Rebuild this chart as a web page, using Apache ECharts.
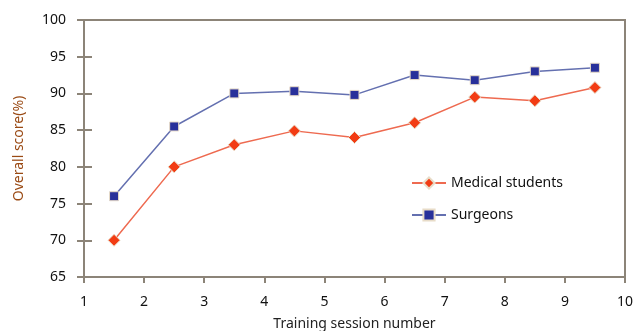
<!DOCTYPE html>
<html>
<head>
<meta charset="utf-8">
<script src="https://cdn.jsdelivr.net/npm/echarts@6/dist/echarts.min.js"></script>
<style>
  html, body { margin: 0; padding: 0; background: #fff; }
  #chart { width: 642px; height: 331px; }
</style>
</head>
<body>
<div id="chart"></div>
<script>
// session positions (x) and scores
var sessions = [1.5, 2.5, 3.5, 4.5, 5.5, 6.5, 7.5, 8.5, 9.5];
var medical = [70, 80, 83, 84.9, 84, 86, 89.5, 89, 90.8];
var surgeons = [76, 85.5, 90, 90.3, 89.8, 92.5, 91.8, 93, 93.5];

function pairs(ys) {
    return sessions.map(function (x, i) { return [x, ys[i]]; });
}

var font = 'Noto Sans';
var axisColor = '#8c8478';

var myChart = echarts.init(document.getElementById('chart'));
myChart.setOption({
    animation: false,
    textStyle: { fontFamily: font },
    grid: {
        left: 84, right: 17, top: 20, bottom: 54,
        outerBoundsMode: 'none', containLabel: false,
        show: true, borderColor: axisColor, borderWidth: 2
    },
    legend: {
        orient: 'vertical',
        left: 406, top: 171,
        itemGap: 18,
        itemWidth: 34, itemHeight: 14,
        textStyle: { fontSize: 14, color: '#111', fontFamily: font },
        data: ['Medical students', 'Surgeons']
    },
    xAxis: {
        type: 'value', min: 1, max: 10, interval: 1,
        name: 'Training session number', nameLocation: 'middle', nameGap: 40,
        nameTextStyle: { fontSize: 14, color: '#222' },
        axisLine: { lineStyle: { color: axisColor, width: 2 } },
        axisTick: { show: true, length: 6, lineStyle: { color: axisColor, width: 2 } },
        axisLabel: { fontSize: 14, color: '#111', margin: 18 },
        splitLine: { show: false }
    },
    yAxis: [{
        type: 'value', min: 65, max: 100, interval: 5,
        name: 'Overall score(%)', nameLocation: 'middle', nameGap: 58, nameRotate: 90,
        nameTextStyle: { fontSize: 14, color: '#9a4a14' },
        axisLine: { show: true, lineStyle: { color: axisColor, width: 2 } },
        axisTick: { show: true, length: 7, lineStyle: { color: axisColor, width: 2 } },
        axisLabel: { fontSize: 14, color: '#111', margin: 18 },
        splitLine: { show: false }
    }, {
        // inner half of the crossing ticks
        type: 'value', min: 65, max: 100, interval: 5, position: 'left',
        axisLine: { show: false },
        axisTick: { show: true, inside: true, length: 8, lineStyle: { color: axisColor, width: 2 } },
        axisLabel: { show: false },
        splitLine: { show: false }
    }],
    series: [
        {
            name: 'Medical students', type: 'line', data: pairs(medical),
            symbol: 'diamond', symbolSize: 12,
            lineStyle: { color: '#ee6a50', width: 1.5 },
            itemStyle: { color: '#f23c14', borderColor: '#e8dcc8', borderWidth: 1 }
        },
        {
            name: 'Surgeons', type: 'line', data: pairs(surgeons),
            symbol: 'rect', symbolSize: 9,
            lineStyle: { color: '#6470b0', width: 1.5 },
            itemStyle: { color: '#28309a', borderColor: '#e8dcc8', borderWidth: 1 }
        }
    ]
});
</script>
</body>
</html>
